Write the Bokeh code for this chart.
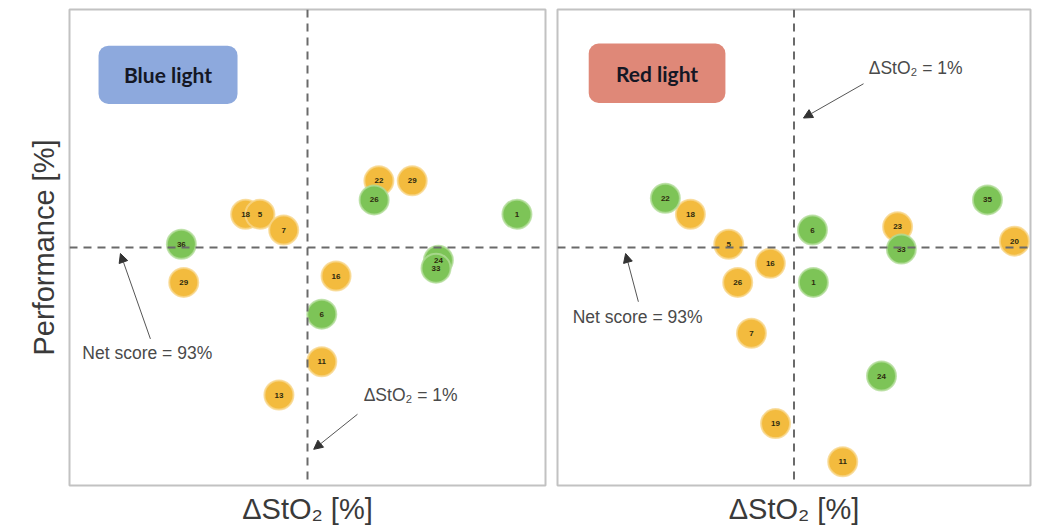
from bokeh.plotting import figure
from bokeh.layouts import row
from bokeh.models import (ColumnDataSource, Span, Arrow, NormalHead, Label,
                          BoxAnnotation, FixedTicker)
from bokeh.core.properties import value
from bokeh.embed import file_html
from bokeh.resources import INLINE

# ---- thresholds -------------------------------------------------------
dsto2_threshold = 1.0      # ΔStO2 = 1 %
net_score = 93.0           # Net score = 93 %

# ---- blue light session ----------------------------------------------
blue_ids   = ["18", "5", "7", "22", "29", "26", "1", "36", "29", "16",
              "6", "11", "13", "24", "33"]
blue_dsto2 = [-0.30, 0.00, 0.50, 2.50, 3.20, 2.40, 5.40, -1.65, -1.60, 1.60,
              1.30, 1.30, 0.40, 3.75, 3.70]
blue_perf  = [95.1, 95.1, 94.1, 97.2, 97.2, 96.0, 95.1, 93.2, 90.8, 91.2,
              88.8, 85.8, 83.7, 92.2, 91.7]
blue_group = ["y", "y", "y", "y", "y", "g", "g", "g", "y", "y",
              "g", "y", "y", "g", "g"]

# ---- red light session -----------------------------------------------
red_ids   = ["22", "18", "6", "23", "35", "20", "33", "5", "16", "26",
             "1", "7", "24", "19", "11"]
red_dsto2 = [-1.72, -1.19, 1.39, 3.19, 5.09, 5.66, 3.27, -0.38, 0.50, -0.19,
             1.41, 0.10, 2.85, 0.61, 2.03]
red_perf  = [96.1, 95.1, 94.1, 94.3, 96.0, 93.4, 92.9, 93.2, 92.0, 90.8,
             90.8, 87.6, 84.9, 81.9, 79.5]
red_group = ["g", "y", "g", "y", "g", "y", "g", "y", "y", "y",
             "g", "y", "g", "y", "y"]

X_RANGE = (-4, 6)
Y_RANGE = (78, 108)

FILL = {"y": "#F3BB3E", "g": "#7DC457"}
HALO = {"y": "#F8D68A", "g": "#B2DC98"}

LABEL_FONT = "Liberation Sans"


def make_panel(ids, xs, ys, groups, title, box_color, box, notes,
               width, border_left, border_right, show_y):
    p = figure(width=width, height=532, x_range=X_RANGE, y_range=Y_RANGE,
               output_backend="svg", toolbar_location=None,
               min_border_left=border_left, min_border_right=border_right,
               min_border_top=9, min_border_bottom=47)
    p.grid.visible = False
    p.outline_line_color = "#c2c2c2"
    p.outline_line_width = 2
    p.background_fill_color = "white"
    p.border_fill_color = "white"

    for ax in (p.xaxis, p.yaxis):
        ax.ticker = FixedTicker(ticks=[])
        ax.axis_line_color = None
        ax.major_tick_line_color = None
        ax.minor_tick_line_color = None
        ax.major_label_text_font_size = "0px"
        ax.axis_label_text_font = LABEL_FONT
        ax.axis_label_text_font_size = "29px"
        ax.axis_label_text_font_style = "normal"
        ax.axis_label_text_color = "#3a3a3a"
    p.xaxis.axis_label = "ΔStO₂ [%]"
    p.xaxis.axis_label_standoff = 7
    if show_y:
        p.yaxis.axis_label = "Performance [%]"
        p.yaxis.axis_label_standoff = 10
    else:
        p.yaxis.visible = False

    # threshold cross
    dash = dict(line_color="#6a6a6a", line_width=2, line_dash="8 6")
    p.add_layout(Span(location=dsto2_threshold, dimension="height", **dash))
    p.add_layout(Span(location=net_score, dimension="width", **dash))

    # session badge
    bl, br, bb, bt = box
    p.add_layout(BoxAnnotation(left=bl, right=br, bottom=bb, top=bt,
                               fill_color=box_color, fill_alpha=1.0,
                               line_color=None, border_radius=10))
    p.add_layout(Label(x=(bl + br) / 2, y=(bb + bt) / 2, text=title,
                       text_font="Lato", text_font_style="bold",
                       text_font_size="21px", text_color="#141724",
                       text_align="center", text_baseline="middle"))

    # subjects: yellow first, green on top
    for g in ("y", "g"):
        sel = [i for i, gg in enumerate(groups) if gg == g]
        src = ColumnDataSource(dict(x=[xs[i] for i in sel],
                                    y=[ys[i] for i in sel],
                                    id=[ids[i] for i in sel]))
        p.scatter("x", "y", source=src, size=29, fill_color=FILL[g],
                  line_color=HALO[g], line_width=2, line_alpha=0.8)
        p.text("x", "y", text="id", source=src, text_font=value(LABEL_FONT),
               text_font_size="8px", text_font_style="bold",
               text_color="#2e2a0e", text_align="center",
               text_baseline="middle")

    # threshold callouts
    for text, tx, ty, xs0, ys0, xe, ye in notes:
        p.add_layout(Label(x=tx, y=ty, text=text, text_font=LABEL_FONT,
                           text_font_size="17.5px", text_color="#4a4a4a",
                           text_baseline="middle"))
        p.add_layout(Arrow(end=NormalHead(size=9, fill_color="#333333",
                                          line_color="#333333"),
                           x_start=xs0, y_start=ys0, x_end=xe, y_end=ye,
                           line_color="#555555", line_width=1))
    return p


blue_notes = [
    ("Net score = 93%", -3.73, 86.35, -2.30, 87.24, -2.93, 92.62),
    ("ΔStO₂ = 1%", 2.18, 83.7, 2.05, 82.49, 1.13, 80.28),
]
red_notes = [
    ("ΔStO₂ = 1%", 2.58, 104.33, 2.47, 103.32, 1.20, 101.16),
    ("Net score = 93%", -3.68, 88.63, -2.29, 89.58, -2.56, 92.62),
]

left = make_panel(blue_ids, blue_dsto2, blue_perf, blue_group, "Blue light",
                  "#8DA9DD", (-3.39, -0.47, 102.05, 105.72), blue_notes,
                  width=551, border_left=69, border_right=6, show_y=True)
right = make_panel(red_ids, red_dsto2, red_perf, red_group, "Red light",
                   "#DF8878", (-3.34, -0.45, 102.11, 105.85), red_notes,
                   width=489, border_left=6, border_right=10, show_y=False)

layout = row(left, right)
open("out.html", "w").write(file_html(layout, INLINE))
